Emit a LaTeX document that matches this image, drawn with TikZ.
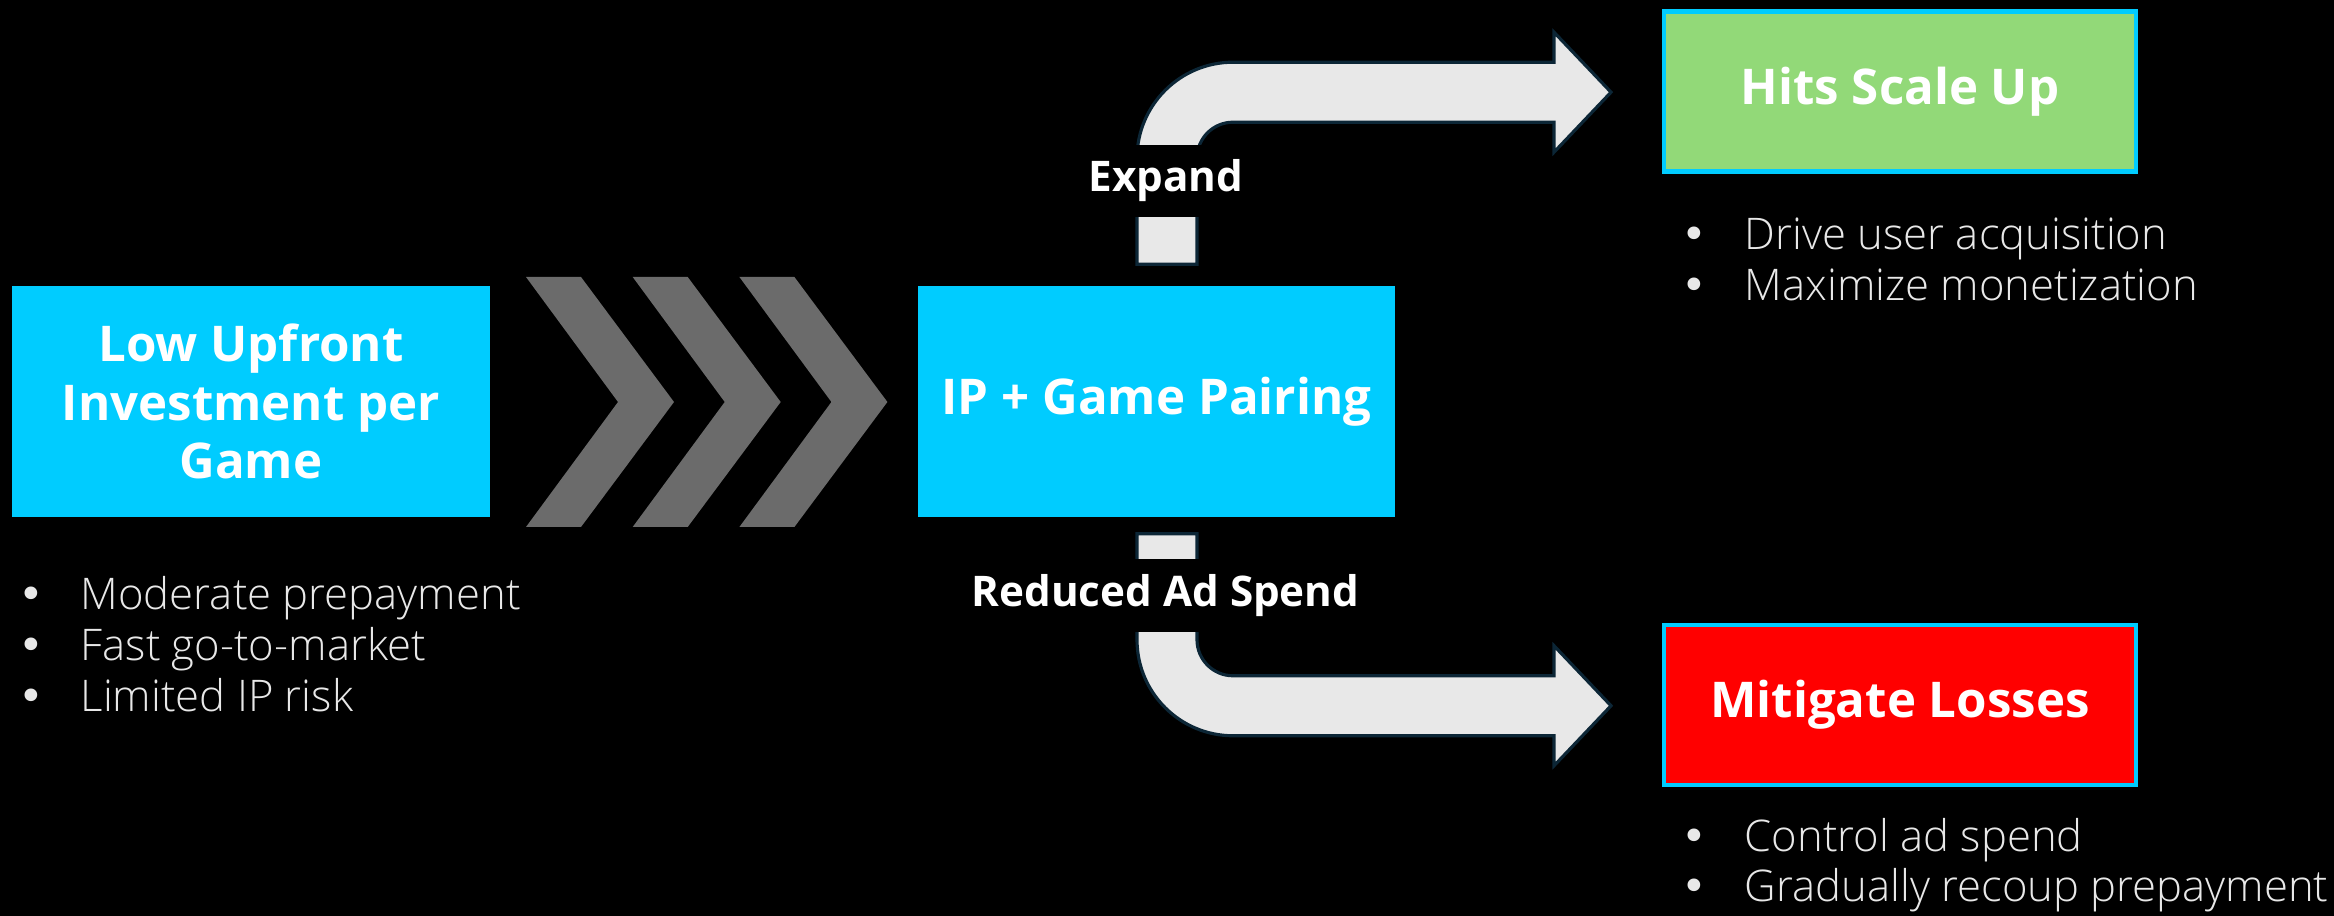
\documentclass[tikz,border=0pt]{standalone}
\usepackage{tikz}
\usetikzlibrary{calc}
\usepackage{xcolor}
\usepackage{fontspec}
\setmainfont{Open Sans}
\IfFontExistsTF{Open Sans SemiBold}{\newfontfamily\headfont{Open Sans SemiBold}}{\newfontfamily\headfont{Open Sans}[UprightFont=*,BoldFont=* Bold]}
\IfFontExistsTF{Open Sans Light}{\newfontfamily\listfont{Open Sans Light}}{\newfontfamily\listfont{Open Sans}}
\newfontfamily\dotfont{DejaVu Sans}
\newcommand{\listdot}{{\dotfont •}}
\definecolor{skyfill}{RGB}{0,204,255}
\definecolor{hitgreen}{RGB}{146,217,120}
\definecolor{chevgray}{RGB}{107,107,107}
\definecolor{pipefill}{RGB}{232,232,232}
\definecolor{pipeedge}{RGB}{12,38,54}
\definecolor{listgray}{RGB}{232,232,232}
\tikzset{
    leadbox/.style={fill=skyfill,text=white,align=center,inner sep=0pt,
        font=\headfont\bfseries\fontsize{14pt}{16.7pt}\selectfont},
    outbox/.style={draw=skyfill,line width=1.2pt,text=white,inner sep=0pt,
        minimum width=4.72cm,minimum height=1.60cm,
        font=\headfont\bfseries\fontsize{14pt}{16.7pt}\selectfont},
    flowlabel/.style={fill=black,text=white,inner xsep=2pt,inner ysep=0pt,minimum height=0.72cm,
        font=\headfont\bfseries\fontsize{12pt}{14pt}\selectfont},
    pipe/.style={fill=pipefill,draw=pipeedge,line width=0.9pt,line join=miter},
    chevron/.style={fill=chevgray},
    bulletline/.style={anchor=base west,inner sep=0pt,text=listgray,
        font=\listfont\fontsize{12.4pt}{14.5pt}\selectfont},
}

\begin{document}
\begin{tikzpicture}[x=0.01cm,y=0.01cm]
		\fill[black] (0,0) rectangle (2334,916);
		\useasboundingbox (0,0) rectangle (2334,916);
		% boxes
		\node[leadbox,minimum width=4.78cm,minimum height=2.31cm] (low) at (251,514.5) {Low Upfront\\Investment per\\Game};
		\node[leadbox,minimum width=4.77cm,minimum height=2.31cm] (pair) at (1156.5,514.5) {IP + Game Pairing};
		\node[outbox,fill=hitgreen] (hits) at (1900,824.5) {Hits Scale Up};
		\node[outbox,fill=red] (loss) at (1900,211) {Mitigate Losses};
		% chevrons
		\foreach \i in {0,1,2} {
				\fill[chevron] ({526+106.7*\i},639) -- ++(55,0) -- ++(93,-125) -- ++(-93,-125)
					-- ++(-55,0) -- ++(92,125) -- cycle;
			}
		% bent arrows
		\coordinate (upfoot) at ($(pair.north)+(-19.5,21)$);
		\coordinate (downfoot) at ($(pair.south)+(-19.5,-16)$);
		\draw[pipe] (upfoot) -- ++(0,106) arc[start angle=180,end angle=90,radius=96]
			-- ++(321,0) -- ++(0,30) -- ++(57,-60) -- ++(-57,-60) -- ++(0,30) -- ++(-321,0)
			arc[start angle=90,end angle=180,radius=36] -- ++(0,-106) -- cycle;
		\draw[pipe] (downfoot) -- ++(0,-106) arc[start angle=180,end angle=270,radius=96]
			-- ++(321,0) -- ++(0,-30) -- ++(57,60) -- ++(-57,60) -- ++(0,-30) -- ++(-321,0)
			arc[start angle=270,end angle=180,radius=36] -- ++(0,106) -- cycle;
		\node[flowlabel] (expand) at (1166,735) {Expand};
		\node[flowlabel] (reduce) at (1165.5,320.5) {Reduced Ad Spend};
		% bullet lists
		\foreach \txt [count=\i] in {Moderate prepayment,Fast go-to-market,Limited IP risk} {
				\node[bulletline] (lowitem\i) at (18,{306-51*(\i-1)}) {\makebox[0.62cm][l]{\listdot}\txt};
			}
		\foreach \txt [count=\i] in {Drive user acquisition,Maximize monetization} {
				\node[bulletline] (hititem\i) at (1681,{666-51*(\i-1)}) {\makebox[0.63cm][l]{\listdot}\txt};
			}
		\foreach \txt [count=\i] in {Control ad spend,Gradually recoup prepayment} {
				\node[bulletline] (lossitem\i) at (1681,{64-50*(\i-1)}) {\makebox[0.63cm][l]{\listdot}\txt};
			}
	\end{tikzpicture}
\end{document}
